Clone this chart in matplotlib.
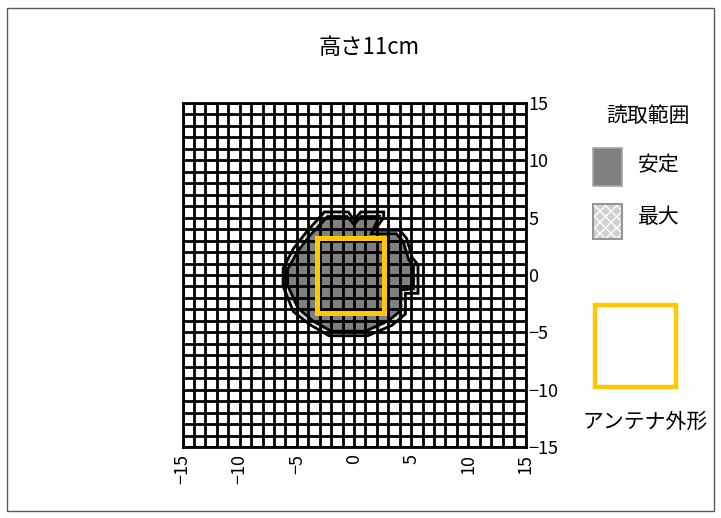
import matplotlib
matplotlib.use("Agg")
import matplotlib.pyplot as plt
from matplotlib.patches import Polygon, Rectangle

plt.rcParams['font.family'] = ['Noto Sans CJK JP', 'DejaVu Sans']

title = "高さ11cm"
legend_title = "読取範囲"
stable_label = "安定"
max_label = "最大"
antenna_label = "アンテナ外形"

# outline of the maximum read range (cm)
max_x = [-2.6, -0.5, 0.0, 0.6, 2.6, 2.6, 1.8, 4.0, 4.6, 5.1, 5.6, 5.6, 4.5,
         4.5, 3.3, 1.2, -2.2, -3.9, -5.3, -6.2, -6.2, -5.3, -4.2]
max_y = [5.5, 5.5, 4.8, 5.5, 5.5, 5.0, 3.9, 3.9, 3.2, 1.5, 0.9, -1.6, -1.6,
         -3.4, -4.4, -5.3, -5.3, -4.3, -3.2, -1.0, 0.6, 2.3, 3.7]

# outline of the stable read range (cm)
stable_x = [-2.3, -0.6, 0.0, 0.6, 2.2, 1.5, 3.7, 4.3, 4.8, 5.2, 5.2, 4.1,
            4.1, 3.0, 1.0, -2.0, -3.6, -4.9, -5.8, -5.8, -4.9, -3.9]
stable_y = [5.1, 5.1, 4.4, 5.1, 5.1, 3.6, 3.6, 2.9, 1.3, 0.8, -1.2, -1.3,
            -3.1, -4.0, -4.9, -4.9, -4.0, -2.9, -0.9, 0.5, 2.1, 3.4]

# antenna outline (cm)
antenna_x = [-3.2, 2.6]
antenna_y = [-3.3, 3.2]

axis_range = [-15, 15]
label_ticks = [-15, -10, -5, 0, 5, 10, 15]

W, H = 721, 518
fig = plt.figure(figsize=(W / 100, H / 100), dpi=100)
fig.patch.set_facecolor('white')

def fx(px):
    return px / W

def fy(py):
    return 1 - py / H

ax = fig.add_axes([fx(182.5), fy(447), 343 / W, 344 / H])

# max range: hatched light gray, stable range: dark gray on top
ax.add_patch(Polygon(list(zip(max_x, max_y)), closed=True, facecolor='#cdcdcd',
                     edgecolor='white', hatch='xxx', linewidth=0, zorder=1))
ax.add_patch(Polygon(list(zip(max_x, max_y)), closed=True, fill=False,
                     edgecolor='black', linewidth=2.0, zorder=3))
ax.add_patch(Polygon(list(zip(stable_x, stable_y)), closed=True,
                     facecolor='#808080', linewidth=0, zorder=1.5))
ax.add_patch(Polygon(list(zip(stable_x, stable_y)), closed=True, fill=False,
                     edgecolor='black', linewidth=2.0, zorder=3))

ax.add_patch(Rectangle((antenna_x[0], antenna_y[0]), antenna_x[1] - antenna_x[0],
                       antenna_y[1] - antenna_y[0], fill=False,
                       edgecolor='#ffc800', linewidth=3.6, zorder=4))

ax.set_xlim(axis_range)
ax.set_ylim(axis_range)
ax.set_xticks(range(axis_range[0], axis_range[1] + 1), minor=True)
ax.set_yticks(range(axis_range[0], axis_range[1] + 1), minor=True)
ax.set_xticks(label_ticks)
ax.set_yticks(label_ticks)
ax.set_xticklabels([str(v).replace('-', '\u2212') for v in label_ticks], rotation=90, fontsize=13)
ax.set_yticklabels([str(v).replace('-', '\u2212') for v in label_ticks], fontsize=13)
ax.yaxis.tick_right()
ax.tick_params(which='both', length=0)
ax.tick_params(axis='y', pad=2)
ax.tick_params(axis='x', pad=5)
ax.set_axisbelow(False)
ax.grid(which='both', color='black', linewidth=2.0, zorder=2)
for s in ax.spines.values():
    s.set_linewidth(2.0)
    s.set_zorder(3)

# figure frame
fig.add_artist(Rectangle((fx(7), fy(511)), (714 - 7) / W, (511 - 8) / H,
                         transform=fig.transFigure, fill=False,
                         edgecolor='#595959', linewidth=1))

fig.text(fx(369), fy(47), title, ha='center', va='center', fontsize=16)

# legend drawn by hand
fig.text(fx(648), fy(116), legend_title, ha='center', va='center', fontsize=15)
fig.add_artist(Rectangle((fx(593), fy(186)), 29 / W, 38 / H, transform=fig.transFigure,
                         facecolor='#808080', edgecolor='#a6a6a6', linewidth=1.2))
fig.text(fx(659), fy(165), stable_label, ha='center', va='center', fontsize=15)
fig.add_artist(Rectangle((fx(593), fy(239)), 29 / W, 35 / H, transform=fig.transFigure,
                         facecolor='#d0d0d0', edgecolor='white', hatch='xxx', linewidth=0))
fig.add_artist(Rectangle((fx(593), fy(239)), 29 / W, 35 / H, transform=fig.transFigure,
                         fill=False, edgecolor='#969696', linewidth=1.5))
fig.text(fx(659), fy(217), max_label, ha='center', va='center', fontsize=15)
fig.add_artist(Rectangle((fx(595), fy(387)), 81 / W, 82 / H, transform=fig.transFigure,
                         fill=False, edgecolor='#ffc800', linewidth=3.2))
fig.text(fx(645), fy(422), antenna_label, ha='center', va='center', fontsize=15)

fig.savefig('out.png', dpi=100)
